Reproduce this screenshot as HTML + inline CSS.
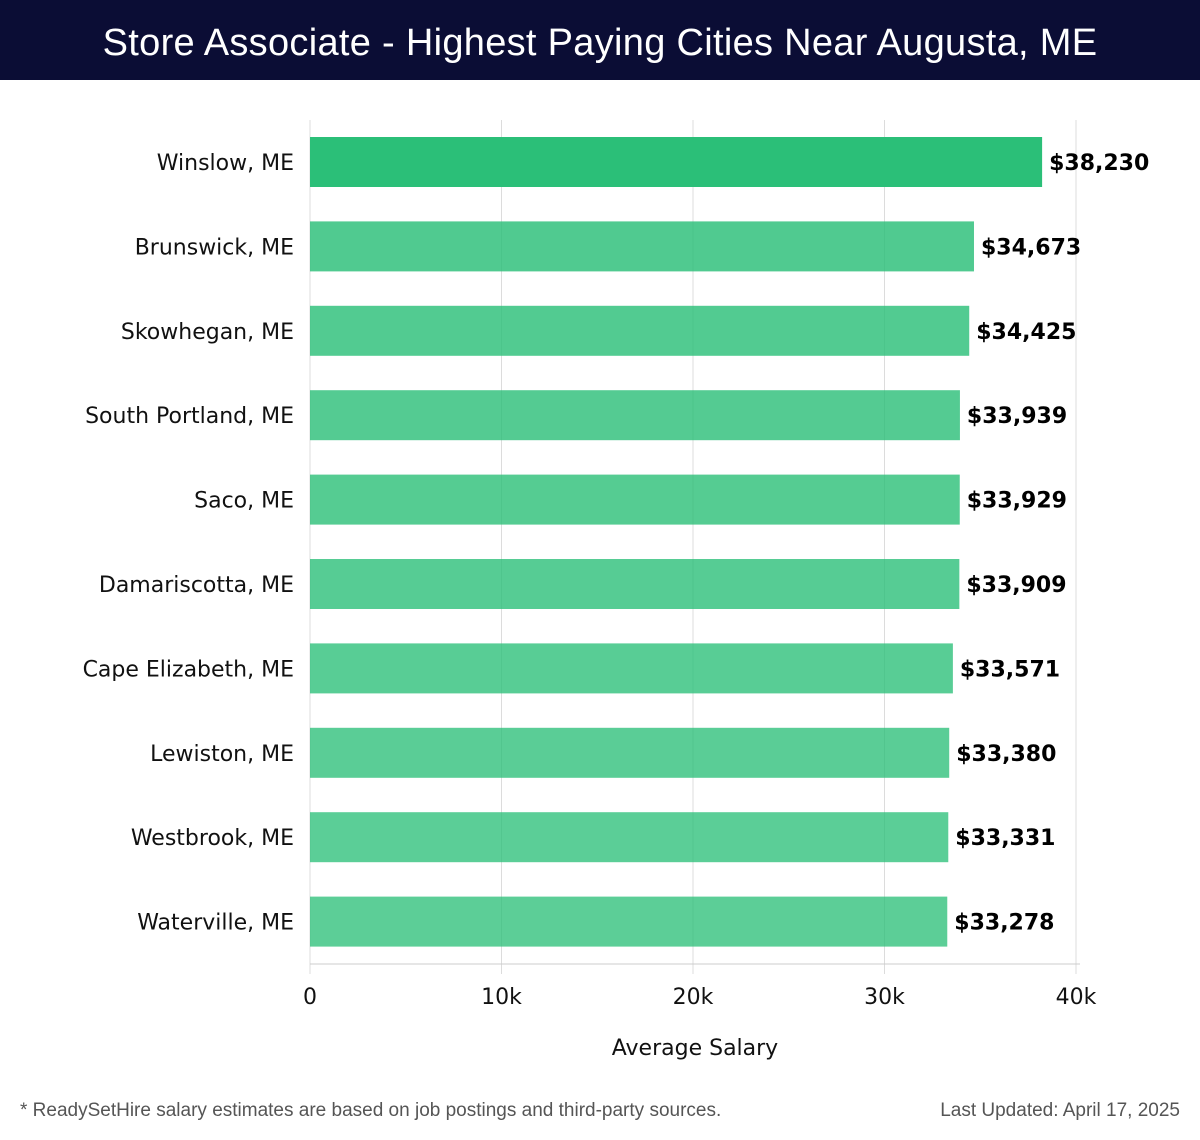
<!DOCTYPE html>
<html><head><meta charset="utf-8"><style>
body{margin:0;width:1200px;height:1140px;background:#fff;overflow:hidden;font-family:"DejaVu Sans","Liberation Sans",sans-serif}
#title{position:absolute;left:0;top:0;width:1200px;height:80px;background:#0b0d35;color:#fff;font:38px "Liberation Sans",sans-serif;text-align:center;line-height:86px;letter-spacing:0.3px}
.foot{position:absolute;top:1100px;font:19px "Liberation Sans",sans-serif;color:#555}
</style></head><body>
<div id="title">Store Associate - Highest Paying Cities Near Augusta, ME</div>
<svg id="chart" width="1200" height="1140" style="position:absolute;left:0;top:0"></svg>
<div class="foot" style="left:20px">* ReadySetHire salary estimates are based on job postings and third-party sources.</div>
<div class="foot" style="right:20px">Last Updated: April 17, 2025</div>
<script>
const cities=["Winslow, ME","Brunswick, ME","Skowhegan, ME","South Portland, ME","Saco, ME","Damariscotta, ME","Cape Elizabeth, ME","Lewiston, ME","Westbrook, ME","Waterville, ME"];
const salaries=[38230,34673,34425,33939,33929,33909,33571,33380,33331,33278];
const ticks=[0,10000,20000,30000,40000];
const tickLabels=["0","10k","20k","30k","40k"];
const NS="http://www.w3.org/2000/svg";
const svg=document.getElementById('chart');
const x0=310,x1=1076,plotTop=120,plotBottom=964,step=84.4,first=162,bh=50;
const xs=v=>x0+(v/40000)*(x1-x0);
const yc=i=>first+i*step;
function mk(t,a){const e=document.createElementNS(NS,t);for(const k in a)e.setAttribute(k,a[k]);svg.appendChild(e);return e;}
ticks.forEach((t,i)=>{
 const g=mk('line',{x1:xs(t),x2:xs(t),y1:plotTop,y2:974,stroke:'#dcdcdc','stroke-width':1});
 
 
 const l=mk('text',{x:xs(t),y:1004,'text-anchor':'middle','font-size':22,fill:'#111'});
 l.textContent=tickLabels[i];
 
 
});
const ax=mk('line',{x1:x0,x2:1080,y1:plotBottom,y2:plotBottom,stroke:'#ccc','stroke-width':1});


salaries.forEach((v,i)=>{
 const c=yc(i);
 const r=mk('rect',{x:x0,y:c-bh/2,width:xs(v)-x0,height:bh,fill:'#2bbf78','fill-opacity':i==0?1:(0.83-i*0.007)});
 
 
 const vl=mk('text',{x:xs(v)+7,y:c+8,'font-size':22,'font-weight':'bold',fill:'#000'});
 vl.textContent='$'+v.toLocaleString('en-US');
 
 
 const cl=mk('text',{x:294,y:c+8,'text-anchor':'end','font-size':22,fill:'#111'});
 cl.textContent=cities[i];
 
 
});
const xt=mk('text',{x:695,y:1055,'text-anchor':'middle','font-size':22,fill:'#111'});
xt.textContent='Average Salary';


</script>
</body></html>
